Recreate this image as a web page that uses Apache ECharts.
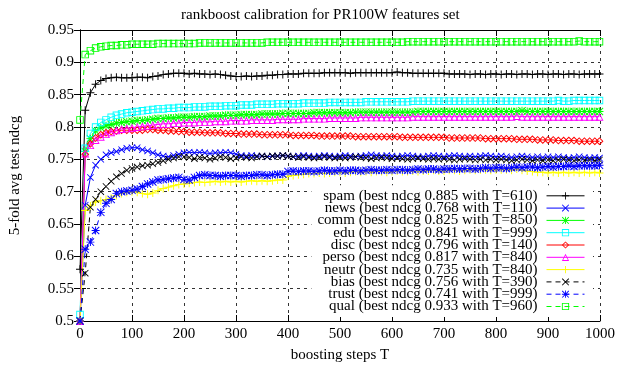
<!DOCTYPE html>
<html>
<head>
<meta charset="utf-8">
<script src="https://cdn.jsdelivr.net/npm/echarts@6/dist/echarts.min.js"></script>
<style>
  html, body { margin: 0; padding: 0; background: #fff; }
  #chart { width: 644px; height: 370px; }
</style>
</head>
<body>
<div id="chart"></div>
<script>
// boosting steps T (one point every 10 steps, last one at 999)
const steps = [
  0, 10, 20, 30, 40, 50, 60, 70, 80, 90,
  100, 110, 120, 130, 140, 150, 160, 170, 180, 190,
  200, 210, 220, 230, 240, 250, 260, 270, 280, 290,
  300, 310, 320, 330, 340, 350, 360, 370, 380, 390,
  400, 410, 420, 430, 440, 450, 460, 470, 480, 490,
  500, 510, 520, 530, 540, 550, 560, 570, 580, 590,
  600, 610, 620, 630, 640, 650, 660, 670, 680, 690,
  700, 710, 720, 730, 740, 750, 760, 770, 780, 790,
  800, 810, 820, 830, 840, 850, 860, 870, 880, 890,
  900, 910, 920, 930, 940, 950, 960, 970, 980, 990, 999
];

const spam = [
  0.580, 0.826, 0.853, 0.866, 0.872, 0.875, 0.876, 0.877, 0.876, 0.876,
  0.876, 0.877, 0.877, 0.876, 0.878, 0.879, 0.881, 0.882, 0.883, 0.883,
  0.883, 0.882, 0.883, 0.882, 0.882, 0.881, 0.882, 0.881, 0.880, 0.879,
  0.878, 0.878, 0.879, 0.878, 0.879, 0.879, 0.880, 0.880, 0.881, 0.881,
  0.882, 0.882, 0.882, 0.883, 0.883, 0.883, 0.883, 0.884, 0.884, 0.884,
  0.884, 0.884, 0.883, 0.884, 0.884, 0.884, 0.884, 0.884, 0.884, 0.884,
  0.884, 0.885, 0.884, 0.884, 0.883, 0.883, 0.883, 0.883, 0.883, 0.883,
  0.883, 0.882, 0.882, 0.882, 0.882, 0.881, 0.882, 0.882, 0.881, 0.882,
  0.882, 0.881, 0.882, 0.882, 0.881, 0.882, 0.882, 0.881, 0.882, 0.882,
  0.881, 0.882, 0.882, 0.881, 0.882, 0.882, 0.881, 0.882, 0.882, 0.882, 0.882
];

const news = [
  0.500, 0.679, 0.722, 0.741, 0.750, 0.757, 0.760, 0.762, 0.765, 0.767,
  0.768, 0.768, 0.765, 0.763, 0.760, 0.757, 0.755, 0.754, 0.756, 0.758,
  0.760, 0.761, 0.760, 0.761, 0.760, 0.759, 0.760, 0.760, 0.761, 0.760,
  0.758, 0.756, 0.755, 0.756, 0.755, 0.755, 0.754, 0.755, 0.755, 0.756,
  0.755, 0.754, 0.755, 0.756, 0.755, 0.754, 0.755, 0.756, 0.755, 0.754,
  0.755, 0.756, 0.755, 0.754, 0.755, 0.756, 0.757, 0.756, 0.755, 0.756,
  0.755, 0.754, 0.755, 0.756, 0.755, 0.754, 0.754, 0.755, 0.756, 0.755,
  0.754, 0.755, 0.756, 0.755, 0.754, 0.755, 0.754, 0.755, 0.756, 0.755,
  0.754, 0.755, 0.754, 0.753, 0.754, 0.755, 0.754, 0.753, 0.754, 0.753,
  0.754, 0.753, 0.754, 0.753, 0.752, 0.753, 0.754, 0.753, 0.752, 0.753, 0.752
];

const comm = [
  0.500, 0.762, 0.782, 0.794, 0.799, 0.802, 0.804, 0.806, 0.807, 0.808,
  0.809, 0.810, 0.810, 0.811, 0.812, 0.813, 0.813, 0.814, 0.814, 0.815,
  0.815, 0.815, 0.816, 0.816, 0.816, 0.817, 0.817, 0.817, 0.818, 0.818,
  0.818, 0.819, 0.819, 0.819, 0.819, 0.820, 0.820, 0.820, 0.820, 0.821,
  0.821, 0.821, 0.821, 0.821, 0.821, 0.822, 0.822, 0.822, 0.822, 0.822,
  0.822, 0.822, 0.822, 0.823, 0.823, 0.823, 0.823, 0.823, 0.823, 0.823,
  0.823, 0.823, 0.823, 0.823, 0.823, 0.824, 0.824, 0.824, 0.824, 0.824,
  0.824, 0.824, 0.824, 0.824, 0.824, 0.824, 0.824, 0.824, 0.824, 0.824,
  0.824, 0.824, 0.824, 0.824, 0.824, 0.825, 0.824, 0.824, 0.824, 0.824,
  0.824, 0.824, 0.824, 0.824, 0.824, 0.824, 0.824, 0.824, 0.824, 0.824, 0.824
];

const edu = [
  0.510, 0.767, 0.790, 0.800, 0.807, 0.811, 0.815, 0.818, 0.820, 0.822,
  0.823, 0.824, 0.825, 0.826, 0.827, 0.828, 0.828, 0.829, 0.829, 0.830,
  0.830, 0.830, 0.831, 0.831, 0.831, 0.832, 0.832, 0.832, 0.833, 0.833,
  0.833, 0.834, 0.834, 0.834, 0.835, 0.835, 0.835, 0.835, 0.836, 0.836,
  0.836, 0.836, 0.836, 0.837, 0.837, 0.837, 0.837, 0.837, 0.838, 0.838,
  0.838, 0.838, 0.838, 0.838, 0.838, 0.839, 0.839, 0.839, 0.839, 0.839,
  0.839, 0.839, 0.839, 0.839, 0.840, 0.840, 0.840, 0.840, 0.840, 0.840,
  0.840, 0.840, 0.840, 0.840, 0.840, 0.840, 0.840, 0.840, 0.840, 0.840,
  0.840, 0.840, 0.840, 0.840, 0.840, 0.840, 0.840, 0.840, 0.840, 0.840,
  0.840, 0.840, 0.841, 0.840, 0.840, 0.841, 0.841, 0.841, 0.841, 0.841, 0.841
];

const disc = [
  0.500, 0.758, 0.774, 0.783, 0.788, 0.791, 0.793, 0.794, 0.795, 0.795,
  0.795, 0.795, 0.795, 0.796, 0.796, 0.795, 0.795, 0.794, 0.794, 0.793,
  0.793, 0.792, 0.792, 0.792, 0.791, 0.791, 0.791, 0.791, 0.790, 0.790,
  0.790, 0.789, 0.789, 0.789, 0.789, 0.788, 0.788, 0.788, 0.788, 0.788,
  0.788, 0.787, 0.787, 0.787, 0.787, 0.787, 0.786, 0.786, 0.786, 0.786,
  0.786, 0.786, 0.786, 0.785, 0.785, 0.785, 0.785, 0.785, 0.785, 0.785,
  0.785, 0.785, 0.784, 0.784, 0.784, 0.784, 0.784, 0.784, 0.784, 0.784,
  0.784, 0.783, 0.783, 0.783, 0.783, 0.783, 0.783, 0.783, 0.782, 0.782,
  0.782, 0.782, 0.782, 0.782, 0.781, 0.781, 0.781, 0.781, 0.780, 0.780,
  0.780, 0.780, 0.779, 0.779, 0.779, 0.779, 0.778, 0.778, 0.778, 0.778, 0.778
];

const perso = [
  0.500, 0.759, 0.772, 0.780, 0.785, 0.789, 0.792, 0.795, 0.797, 0.798,
  0.799, 0.800, 0.801, 0.802, 0.803, 0.804, 0.805, 0.805, 0.806, 0.806,
  0.807, 0.807, 0.807, 0.808, 0.808, 0.808, 0.809, 0.809, 0.809, 0.810,
  0.810, 0.810, 0.810, 0.811, 0.811, 0.811, 0.811, 0.811, 0.812, 0.812,
  0.812, 0.812, 0.812, 0.813, 0.813, 0.813, 0.813, 0.813, 0.814, 0.814,
  0.814, 0.814, 0.814, 0.814, 0.815, 0.815, 0.815, 0.815, 0.815, 0.815,
  0.815, 0.815, 0.815, 0.815, 0.816, 0.816, 0.816, 0.816, 0.816, 0.816,
  0.816, 0.816, 0.816, 0.816, 0.816, 0.816, 0.816, 0.816, 0.816, 0.816,
  0.816, 0.816, 0.816, 0.816, 0.817, 0.816, 0.816, 0.816, 0.816, 0.816,
  0.816, 0.816, 0.816, 0.816, 0.816, 0.816, 0.816, 0.816, 0.816, 0.816, 0.816
];

const neutr = [
  0.500, 0.671, 0.678, 0.684, 0.686, 0.688, 0.690, 0.694, 0.697, 0.699,
  0.700, 0.699, 0.697, 0.696, 0.698, 0.702, 0.705, 0.707, 0.709, 0.711,
  0.712, 0.713, 0.714, 0.715, 0.714, 0.715, 0.716, 0.715, 0.716, 0.715,
  0.716, 0.715, 0.716, 0.717, 0.716, 0.717, 0.716, 0.717, 0.718, 0.718,
  0.724, 0.725, 0.726, 0.727, 0.728, 0.728, 0.729, 0.728, 0.729, 0.730,
  0.730, 0.729, 0.730, 0.731, 0.730, 0.731, 0.730, 0.731, 0.731, 0.730,
  0.731, 0.732, 0.731, 0.731, 0.732, 0.731, 0.732, 0.732, 0.733, 0.732,
  0.732, 0.733, 0.733, 0.732, 0.733, 0.734, 0.733, 0.734, 0.734, 0.733,
  0.734, 0.734, 0.734, 0.733, 0.735, 0.733, 0.732, 0.731, 0.730, 0.730,
  0.729, 0.730, 0.729, 0.730, 0.729, 0.730, 0.729, 0.730, 0.729, 0.730, 0.729
];

const bias = [
  0.500, 0.574, 0.676, 0.688, 0.700, 0.708, 0.716, 0.723, 0.728, 0.733,
  0.736, 0.738, 0.740, 0.741, 0.743, 0.745, 0.748, 0.750, 0.752, 0.754,
  0.754, 0.753, 0.751, 0.753, 0.752, 0.750, 0.752, 0.754, 0.753, 0.751,
  0.752, 0.754, 0.753, 0.752, 0.754, 0.755, 0.754, 0.755, 0.755, 0.756,
  0.755, 0.754, 0.753, 0.754, 0.753, 0.752, 0.753, 0.754, 0.753, 0.752,
  0.753, 0.752, 0.753, 0.754, 0.753, 0.752, 0.751, 0.752, 0.753, 0.752,
  0.751, 0.752, 0.751, 0.750, 0.751, 0.752, 0.751, 0.750, 0.751, 0.750,
  0.751, 0.750, 0.749, 0.750, 0.751, 0.750, 0.749, 0.750, 0.749, 0.750,
  0.749, 0.750, 0.749, 0.748, 0.749, 0.750, 0.749, 0.748, 0.749, 0.748,
  0.749, 0.748, 0.749, 0.750, 0.749, 0.748, 0.749, 0.748, 0.749, 0.748, 0.749
];

const trust = [
  0.500, 0.611, 0.622, 0.640, 0.668, 0.682, 0.688, 0.697, 0.700, 0.701,
  0.702, 0.704, 0.708, 0.712, 0.715, 0.718, 0.719, 0.720, 0.721, 0.722,
  0.719, 0.718, 0.722, 0.725, 0.726, 0.725, 0.725, 0.724, 0.725, 0.725,
  0.725, 0.724, 0.725, 0.725, 0.726, 0.726, 0.725, 0.726, 0.727, 0.727,
  0.731, 0.732, 0.731, 0.732, 0.732, 0.731, 0.732, 0.733, 0.732, 0.732,
  0.733, 0.732, 0.733, 0.733, 0.732, 0.733, 0.734, 0.733, 0.733, 0.734,
  0.733, 0.734, 0.734, 0.733, 0.734, 0.735, 0.734, 0.735, 0.735, 0.734,
  0.735, 0.735, 0.736, 0.735, 0.736, 0.736, 0.735, 0.736, 0.737, 0.736,
  0.737, 0.737, 0.736, 0.737, 0.738, 0.737, 0.738, 0.738, 0.737, 0.738,
  0.739, 0.738, 0.739, 0.739, 0.740, 0.739, 0.740, 0.740, 0.740, 0.740, 0.741
];

const qual = [
  0.811, 0.912, 0.918, 0.922, 0.924, 0.925, 0.926, 0.926, 0.927, 0.927,
  0.928, 0.928, 0.928, 0.928, 0.928, 0.929, 0.929, 0.929, 0.929, 0.929,
  0.929, 0.929, 0.929, 0.930, 0.930, 0.930, 0.930, 0.930, 0.930, 0.930,
  0.930, 0.930, 0.930, 0.930, 0.930, 0.930, 0.931, 0.931, 0.931, 0.931,
  0.931, 0.931, 0.931, 0.931, 0.931, 0.931, 0.931, 0.931, 0.931, 0.931,
  0.931, 0.931, 0.931, 0.931, 0.931, 0.931, 0.931, 0.931, 0.931, 0.931,
  0.931, 0.931, 0.931, 0.932, 0.932, 0.932, 0.932, 0.932, 0.932, 0.932,
  0.932, 0.932, 0.932, 0.932, 0.932, 0.932, 0.932, 0.932, 0.932, 0.932,
  0.932, 0.932, 0.932, 0.932, 0.932, 0.932, 0.932, 0.932, 0.932, 0.932,
  0.932, 0.932, 0.932, 0.932, 0.932, 0.932, 0.933, 0.932, 0.932, 0.932, 0.932
];

const seriesNames = [
  "spam (best ndcg 0.885 with T=610)",
  "news (best ndcg 0.768 with T=110)",
  "comm (best ndcg 0.825 with T=850)",
  "edu (best ndcg 0.841 with T=999)",
  "disc (best ndcg 0.796 with T=140)",
  "perso (best ndcg 0.817 with T=840)",
  "neutr (best ndcg 0.735 with T=840)",
  "bias (best ndcg 0.756 with T=390)",
  "trust (best ndcg 0.741 with T=999)",
  "qual (best ndcg 0.933 with T=960)",
];

// gnuplot-like point shapes (filled outlines so they stay hollow)
const PLUS = "M4.4,0h1.2v10h-1.2zM0,4.4h10v1.2h-10z";
const CROSS = "M0,0.85L0.85,0L10,9.15L9.15,10zM0,9.15L9.15,0L10,0.85L0.85,10z";
const SQUARE = "M0,0H10V10H0ZM1.2,1.2V8.8H8.8V1.2Z";
const DIAMOND = "M5,0L10,5L5,10L0,5ZM5,1.7L1.7,5L5,8.3L8.3,5Z";
const TRIANGLE = "M5,0L10,9L0,9ZM5,2.3L1.8,8L8.2,8Z";

const styles = [
  { values: spam, color: "#000000", shape: PLUS, size: 8 },
  { values: news, color: "#0000ff", shape: CROSS, size: 7 },
  { values: comm, color: "#00ff00", shape: PLUS + CROSS, size: 8 },
  { values: edu, color: "#00ffff", shape: SQUARE, size: 7.5 },
  { values: disc, color: "#ff0000", shape: DIAMOND, size: 8 },
  { values: perso, color: "#ff00ff", shape: TRIANGLE, size: 8 },
  { values: neutr, color: "#ffff00", shape: PLUS, size: 8 },
  { values: bias, color: "#000000", shape: CROSS, size: 7, dashed: true },
  { values: trust, color: "#0000ff", shape: PLUS + CROSS, size: 8, dashed: true },
  { values: qual, color: "#00ff00", shape: SQUARE, size: 7.5, dashed: true },
];

const FONT = "Liberation Serif";

const chart = echarts.init(document.getElementById("chart"), null, { renderer: "canvas" });

const series = styles.map((s, i) => ({
  name: seriesNames[i],
  type: "line",
  data: steps.map((t, j) => [t, s.values[j]]),
  symbol: "path://" + s.shape,
  symbolSize: s.size,
  showAllSymbol: true,
  color: s.color,
  itemStyle: { color: s.color },
  lineStyle: { color: s.color, width: 1, type: s.dashed ? [5, 4] : "solid" },
  emphasis: { disabled: true },
  animation: false,
}));

const tickStyle = { show: true, inside: true, length: 6, lineStyle: { color: "#000" } };
const gridLine = { show: true, lineStyle: { color: "#333", width: 1, type: [3, 4] } };

const option = {
  backgroundColor: "#fff",
  animation: false,
  title: {
    text: "rankboost calibration for PR100W features set",
    left: 181,
    top: 8,
    padding: 0,
    textStyle: { fontFamily: FONT, fontSize: 15, fontWeight: "normal", color: "#000" },
  },
  grid: { left: 80, right: 44, top: 30, bottom: 49 },
  legend: {
    orient: "vertical",
    align: "right",
    right: 51,
    bottom: 53,
    padding: [3, 8, 3, 6],
    backgroundColor: "#fff",
    itemWidth: 38,
    itemHeight: 9,
    itemGap: -2.7,
    selectedMode: false,
    lineStyle: { width: 1 },
    textStyle: { fontFamily: FONT, fontSize: 15, color: "#000", lineHeight: 12, padding: [0, 4, 0, 0] },
    data: seriesNames,
  },
  xAxis: [
    {
      type: "value",
      min: 0,
      max: 1000,
      interval: 100,
      name: "boosting steps T",
      nameLocation: "middle",
      nameGap: 27,
      nameTextStyle: { fontFamily: FONT, fontSize: 15, color: "#000" },
      axisLine: { show: true, lineStyle: { color: "#000" } },
      axisTick: tickStyle,
      axisLabel: { fontFamily: FONT, fontSize: 15, color: "#000", margin: 6, formatter: (v) => String(v) },
      splitLine: gridLine,
    },
    {
      type: "value",
      position: "top",
      min: 0,
      max: 1000,
      interval: 100,
      axisLine: { show: true, lineStyle: { color: "#000" } },
      axisTick: tickStyle,
      axisLabel: { show: false },
      splitLine: { show: false },
    },
  ],
  yAxis: [
    {
      type: "value",
      min: 0.5,
      max: 0.95,
      interval: 0.05,
      name: "5-fold avg test ndcg",
      nameLocation: "middle",
      nameGap: 57,
      nameTextStyle: { fontFamily: FONT, fontSize: 15, color: "#000" },
      axisLine: { show: true, lineStyle: { color: "#000" } },
      axisTick: tickStyle,
      axisLabel: { fontFamily: FONT, fontSize: 15, color: "#000", margin: 6 },
      splitLine: gridLine,
    },
    {
      type: "value",
      position: "right",
      min: 0.5,
      max: 0.95,
      interval: 0.05,
      axisLine: { show: true, lineStyle: { color: "#000" } },
      axisTick: tickStyle,
      axisLabel: { show: false },
      splitLine: { show: false },
    },
  ],
  series: series,
};

chart.setOption(option);
</script>
</body>
</html>
